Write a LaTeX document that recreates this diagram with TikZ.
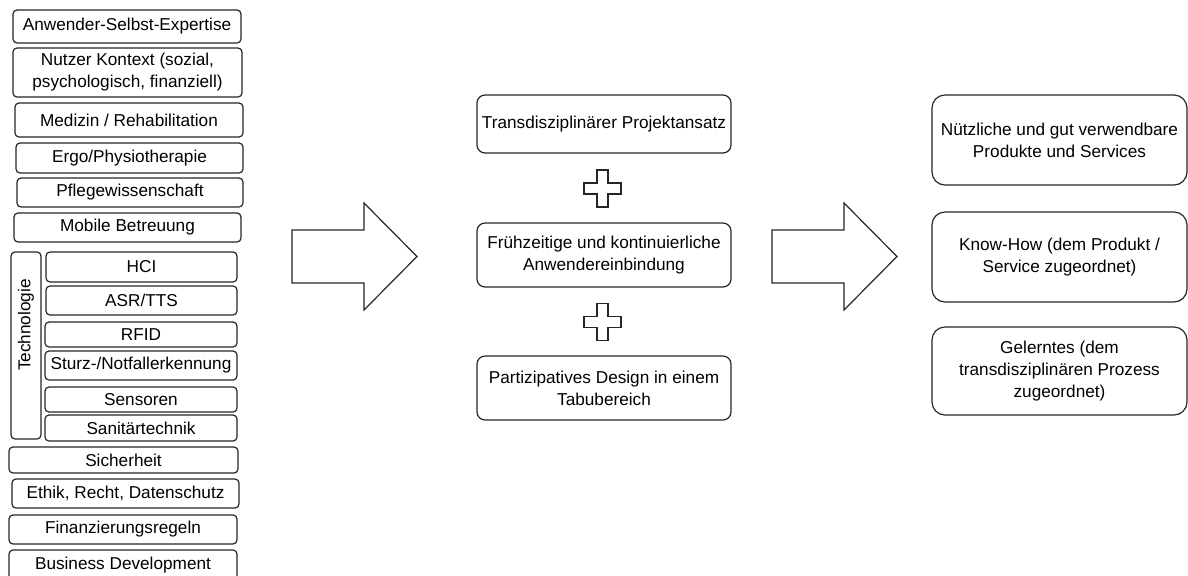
\documentclass[tikz,border=0pt]{standalone}
\usepackage{fontspec}
\setmainfont{Liberation Sans}
\begin{document}
\begin{tikzpicture}[x=0.5pt, y=-0.5pt,
    kasten/.style={draw=black!85, line width=0.6pt, rounded corners=2pt, inner sep=0pt,
      align=center, font=\fontsize{8.6}{11}\selectfont},
    groesse/.style 2 args={minimum width=#1*0.5pt, minimum height=#2*0.5pt},
    mitte/.style={kasten, rounded corners=4pt},
    ergebnis/.style={kasten, rounded corners=6.5pt},
    form/.style={draw=black!85, line width=0.6pt, fill=white}]
    \useasboundingbox[fill=white] (0,0) rectangle (1188,575);
    % linke Spalte: Disziplinen
    \node[kasten, groesse={228}{33}] (anwender) at (127,26.5) {Anwender-Selbst-Expertise};
    \node[kasten, groesse={229}{49}] (kontext) at (127.5,72.5) {Nutzer Kontext (sozial,\\psychologisch, finanziell)};
    \node[kasten, groesse={228}{34}] (medizin) at (129,120) {Medizin / Rehabilitation};
    \node[kasten, groesse={227}{30}] (ergo) at (129.5,158) {Ergo/Physiotherapie};
    \node[kasten, groesse={226}{29}] (pflege) at (130,192.5) {Pflegewissenschaft};
    \node[kasten, groesse={227}{29}] (mobil) at (127.5,227.5) {Mobile Betreuung};
    \node[kasten, groesse={30}{187}] (technik) at (26,345.5) {};
    \node[rotate=90, font=\fontsize{8.6}{11}\selectfont] (techniktext) at (26,325) {Technologie};
    \node[kasten, groesse={191}{30}] (hci) at (141.5,267) {HCI};
    \node[kasten, groesse={191}{29}] (asr) at (141.5,300.5) {ASR/TTS};
    \node[kasten, groesse={192}{25}] (rfid) at (141,334.5) {RFID};
    \node[kasten, groesse={192}{29}] (sturz) at (141,365.5) {Sturz-/Notfallerkennung};
    \node[kasten, groesse={192}{25}] (sensoren) at (141,399.5) {Sensoren};
    \node[kasten, groesse={192}{26}] (sanitaer) at (141,428) {Sanitärtechnik};
    \node[kasten, groesse={229}{26}] (sicherheit) at (123.5,460) {Sicherheit};
    \node[kasten, groesse={227}{29}] (ethik) at (125.5,493.5) {Ethik, Recht, Datenschutz};
    \node[kasten, groesse={228}{29}] (finanz) at (123,529.5) {Finanzierungsregeln};
    \node[kasten, groesse={228}{30}] (business) at (123,565) {Business Development};
    % Blockpfeile
    \foreach \ax in {292,772}
      \draw[form] (\ax,230) -- ++(72,0) -- ++(0,-27) -- ++(53,53.5) -- ++(-53,53.5)
        -- ++(0,-27) -- ++(-72,0) -- cycle;
    % mittlere Spalte: Ansatz
    \node[mitte, groesse={254}{58}] (ansatz) at (604,124) {Transdisziplinärer Projektansatz};
    \node[mitte, groesse={254}{64}] (einbindung) at (604,255) {Frühzeitige und kontinuierliche\\Anwendereinbindung};
    \node[mitte, groesse={254}{64}] (design) at (604,388) {Partizipatives Design in einem\\Tabubereich};
    \foreach \py in {188.5,322}
      \draw[form] (602.5,\py) ++(-5.5,-18.5) -- ++(11,0) -- ++(0,13) -- ++(13,0) -- ++(0,11)
        -- ++(-13,0) -- ++(0,13) -- ++(-11,0) -- ++(0,-13) -- ++(-13,0) -- ++(0,-11)
        -- ++(13,0) -- cycle;
    % rechte Spalte: Ergebnisse
    \node[ergebnis, groesse={255}{90}] (produkte) at (1059.5,140) {Nützliche und gut verwendbare\\Produkte und Services};
    \node[ergebnis, groesse={255}{90}] (knowhow) at (1059.5,257) {Know-How (dem Produkt /\\Service zugeordnet)};
    \node[ergebnis, groesse={255}{88}] (gelerntes) at (1059.5,371) {Gelerntes (dem\\transdisziplinären Prozess\\zugeordnet)};
\end{tikzpicture}
\end{document}
